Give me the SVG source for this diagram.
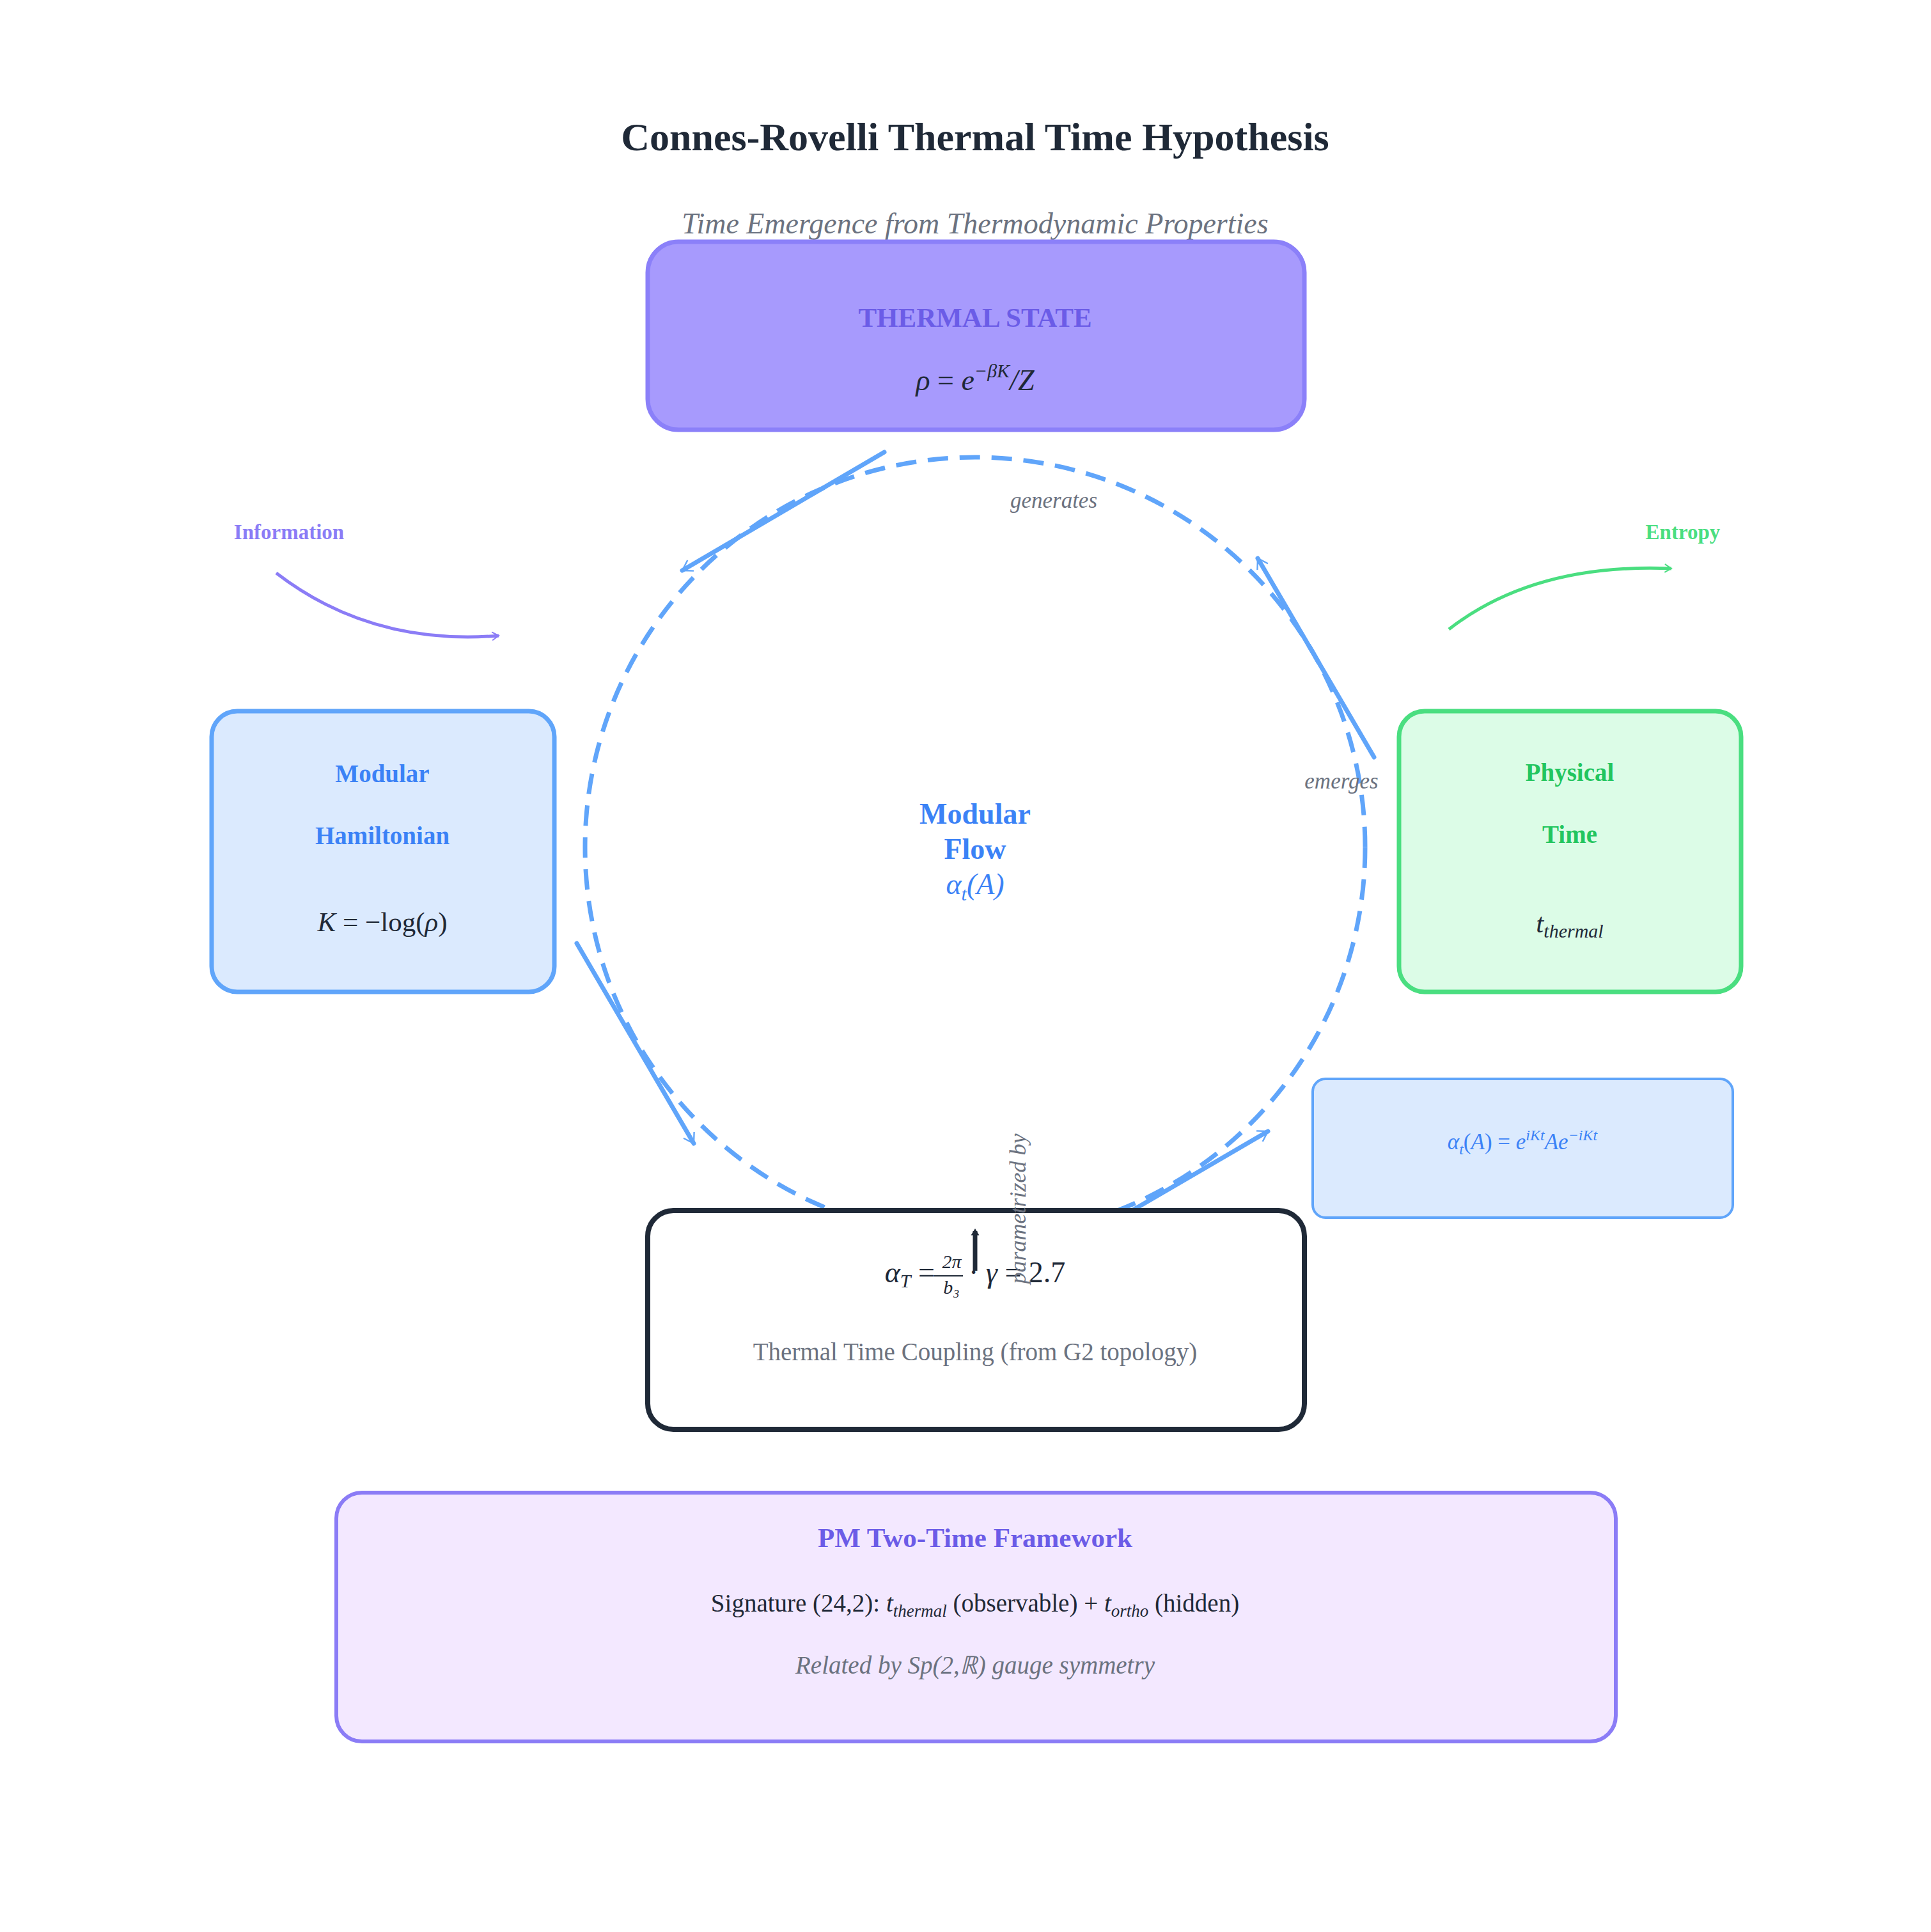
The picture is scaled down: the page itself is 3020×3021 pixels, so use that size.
<svg xmlns="http://www.w3.org/2000/svg" width="3020" height="3021" viewBox="0 0 3020 3021">
<style>
text{font-family:"Liberation Serif","Times New Roman",serif;text-anchor:middle}
.b{font-weight:bold}
.i{font-style:italic}
.g{fill:#6b7280}
.m{fill:#1f2937}
.conn{fill:none;stroke:#60a5fa;stroke-width:7;stroke-linecap:round}
</style>
<defs>
<marker id="ah" viewBox="0 0 20 20" refX="18" refY="10" markerWidth="8" markerHeight="8" markerUnits="userSpaceOnUse" orient="auto" overflow="visible">
<path d="M-20,-14 L18,10 L-20,34" fill="none" stroke="context-stroke" stroke-width="6" transform="scale(1)"/>
</marker>
<marker id="ahp" viewBox="0 0 20 20" refX="18" refY="10" markerWidth="8" markerHeight="8" markerUnits="userSpaceOnUse" orient="auto" overflow="visible">
<path d="M-8,-6 L18,10 L-8,26" fill="none" stroke="#8b7cf6" stroke-width="5"/>
</marker>
<marker id="ahg" viewBox="0 0 20 20" refX="18" refY="10" markerWidth="8" markerHeight="8" markerUnits="userSpaceOnUse" orient="auto" overflow="visible">
<path d="M-8,-6 L18,10 L-8,26" fill="none" stroke="#4ade80" stroke-width="5"/>
</marker>
<marker id="ahb" viewBox="0 0 20 20" refX="10" refY="10" markerWidth="8" markerHeight="8" markerUnits="userSpaceOnUse" orient="auto" overflow="visible">
<path d="M-6,-6 L20,10 L-6,26 Z" fill="#1f2937"/>
</marker>
</defs>
<rect width="3020" height="3021" fill="#fff"/>
<text x="1525" y="235" class="b m" font-size="62">Connes-Rovelli Thermal Time Hypothesis</text>
<text x="1525" y="365" class="i g" font-size="46">Time Emergence from Thermodynamic Properties</text>

<g id="flow-circle">
<circle cx="1525" cy="1325" r="610" fill="none" stroke="#60a5fa" stroke-width="7" stroke-dasharray="32,18"/>
<text x="1525" y="1288" class="b" font-size="46" fill="#3b82f6">Modular</text>
<text x="1525" y="1343" class="b" font-size="46" fill="#3b82f6">Flow</text>
<text x="1525" y="1398" class="i" font-size="46" fill="#3b82f6">α<tspan font-size="30" dy="10">t</tspan><tspan dy="-10">(A)</tspan></text>
</g>

<g id="connectors">
<path class="conn" d="M1383,707 L1067,892" marker-end="url(#ah)"/>
<path class="conn" d="M2149,1184 L1967,873" marker-end="url(#ah)"/>
<path class="conn" d="M902,1475 L1085,1788" marker-end="url(#ah)"/>
<path class="conn" d="M1669,1952 L1983,1769" marker-end="url(#ah)"/>
<path d="M432,896 Q580,1010 780,994" fill="none" stroke="#8b7cf6" stroke-width="5" marker-end="url(#ahp)"/>
<path d="M2266,984 Q2400,880 2614,889" fill="none" stroke="#4ade80" stroke-width="5" marker-end="url(#ahg)"/>
<text x="1648" y="794" class="i g" font-size="35">generates</text>
<text x="2098" y="1233" class="i g" font-size="35">emerges</text>
</g>

<g id="thermal-state">
<rect x="1013" y="378" width="1027" height="294" rx="48" fill="#a79afd" stroke="#8b80f9" stroke-width="7"/>
<text x="1525" y="511" class="b" font-size="43" fill="#6b5ce7">THERMAL STATE</text>
<text x="1525" y="610" class="i m" font-size="46">ρ<tspan font-style="normal"> = </tspan>e<tspan font-size="30" dy="-20">−βK</tspan><tspan dy="20">/Z</tspan></text>
</g>

<g id="modular-hamiltonian">
<rect x="331" y="1112" width="536" height="439" rx="40" fill="#dbeafe" stroke="#60a5fa" stroke-width="7"/>
<text x="598" y="1223" class="b" font-size="39" fill="#3b82f6">Modular</text>
<text x="598" y="1320" class="b" font-size="39" fill="#3b82f6">Hamiltonian</text>
<text x="598" y="1456" class="m" font-size="43"><tspan font-style="italic">K</tspan> = −log(<tspan font-style="italic">ρ</tspan>)</text>
</g>

<g id="physical-time">
<rect x="2188" y="1112" width="535" height="439" rx="40" fill="#dcfce7" stroke="#4ade80" stroke-width="7"/>
<text x="2455" y="1221" class="b" font-size="39" fill="#22c55e">Physical</text>
<text x="2455" y="1318" class="b" font-size="39" fill="#22c55e">Time</text>
<text x="2455" y="1458" class="i m" font-size="43">t<tspan font-size="30" dy="8">thermal</tspan></text>
</g>

<g id="flow-formula">
<rect x="2053" y="1687" width="657" height="217" rx="20" fill="#dbeafe" stroke="#60a5fa" stroke-width="4"/>
<text x="2381" y="1797" class="i" font-size="35" fill="#3b82f6">α<tspan font-size="24" dy="8">t</tspan><tspan dy="-8" font-style="normal">(</tspan>A<tspan font-style="normal">) = </tspan>e<tspan font-size="24" dy="-14">iKt</tspan><tspan dy="14">Ae</tspan><tspan font-size="24" dy="-14">−iKt</tspan></text>
</g>

<g id="coupling">
<rect x="1013" y="1893" width="1027" height="342" rx="40" fill="#fff" stroke="#1f2937" stroke-width="8"/>
<text x="1525" y="2005" class="m" font-size="46"><tspan font-style="italic">α</tspan><tspan font-size="30" dy="8" font-style="italic">T</tspan><tspan dy="-8"> = </tspan><tspan font-size="30" dy="-22" font-style="italic">2π</tspan><tspan dy="22"> · </tspan><tspan font-style="italic">γ</tspan> = 2.7</text>
<text x="1488" y="2023" class="i m" font-size="30">b₃</text>
<line x1="1460" y1="1995" x2="1506" y2="1995" stroke="#1f2937" stroke-width="2"/>
<path d="M1525,1987 L1525,1925" stroke="#1f2937" stroke-width="7" marker-end="url(#ahb)"/>
<text x="1592" y="1890" class="i g" font-size="36" transform="rotate(-90 1592 1890)" dy="12">parametrized by</text>
<text x="1525" y="2127" class="g" font-size="39">Thermal Time Coupling (from G2 topology)</text>
</g>

<g id="information">
<text x="452" y="843" class="b" font-size="33" fill="#8b7cf6">Information</text>
</g>
<g id="entropy">
<text x="2632" y="843" class="b" font-size="33" fill="#4ade80">Entropy</text>
</g>

<g id="pm-framework">
<rect x="526" y="2334" width="2001" height="389" rx="40" fill="#f3e8ff" stroke="#8b7cf6" stroke-width="6"/>
<text x="1525" y="2419" class="b" font-size="43" fill="#6b5ce7">PM Two-Time Framework</text>
<text x="1525" y="2520" class="m" font-size="39">Signature (24,2): <tspan font-style="italic">t</tspan><tspan font-size="27" dy="8" font-style="italic">thermal</tspan><tspan dy="-8"> (observable) + </tspan><tspan font-style="italic">t</tspan><tspan font-size="27" dy="8" font-style="italic">ortho</tspan><tspan dy="-8"> (hidden)</tspan></text>
<text x="1525" y="2617" class="i g" font-size="39">Related by Sp(2,ℝ) gauge symmetry</text>
</g>
</svg>
